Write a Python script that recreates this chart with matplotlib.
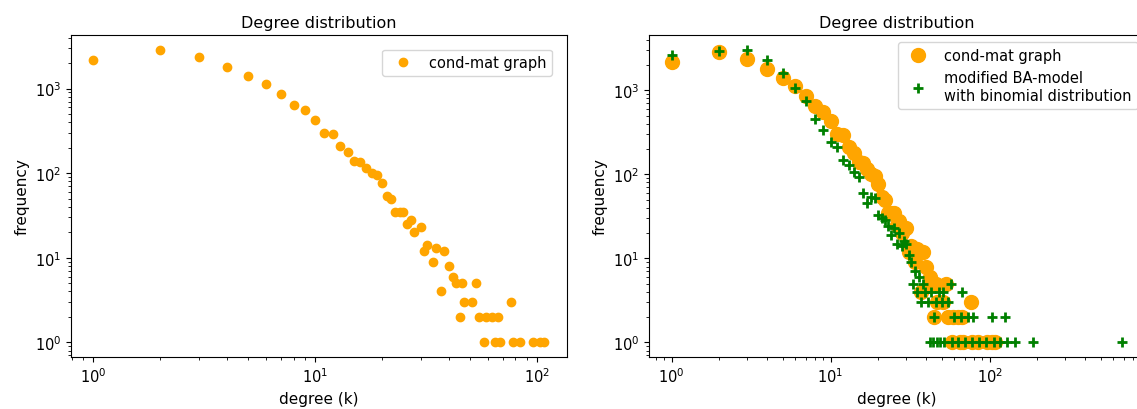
import matplotlib
matplotlib.use("Agg")
import matplotlib.pyplot as plt

plt.rcParams["font.size"] = 10.5
plt.rcParams["axes.titlesize"] = 11.5
plt.rcParams["axes.labelsize"] = 11

# degree distribution of the cond-mat collaboration graph
cm_degree = [1, 2, 3, 4, 5, 6, 7, 8, 9, 10, 11, 12, 13, 14, 15, 16, 17, 18, 19, 20,
             21, 22, 23, 24, 25, 26, 27, 28, 30, 31, 32, 34, 35, 37, 38, 40, 42, 43,
             45, 46, 47, 51, 53, 55, 58, 59, 63, 65, 67, 68, 76, 78, 84, 96, 103, 108]
cm_freq = [2150, 2880, 2360, 1780, 1390, 1140, 860, 645, 553, 430, 300, 290, 212, 178,
           140, 136, 116, 100, 95, 77, 54, 50, 35, 35, 35, 25, 28, 20, 23, 12, 14, 9,
           13, 4, 12, 8, 6, 5, 2, 5, 3, 3, 5, 2, 1, 2, 2, 1, 2, 1, 3, 1, 1, 1, 1, 1]

# degree distribution of the modified BA-model (binomial number of new edges)
ba_degree = [1, 2, 3, 4, 5, 6, 7, 8, 9, 10, 11, 12, 13, 14, 15, 16, 17, 18, 19, 20,
             21, 22, 23, 24, 25, 26, 27, 28, 29, 30, 31, 32, 33, 34, 35, 36, 37, 38,
             39, 41, 42, 43, 44, 45, 46, 47, 48, 49, 50, 51, 52, 55, 57, 58, 60, 63,
             66, 67, 70, 73, 77, 79, 86, 95, 104, 106, 116, 125, 128, 144, 187, 684]
ba_freq = [2610, 2930, 3050, 2275, 1600, 1060, 740, 452, 340, 244, 210, 150, 128, 108,
           93, 60, 45, 54, 52, 33, 30, 29, 24, 19, 23, 15, 20, 14, 16, 15, 11, 9, 5,
           7, 4, 6, 3, 5, 4, 3, 1, 4, 1, 2, 3, 1, 4, 1, 3, 4, 1, 3, 5, 1, 2, 1, 2, 4,
           1, 2, 1, 2, 1, 1, 2, 1, 1, 2, 1, 1, 1, 1]

fig = plt.figure(figsize=(11.37, 4.10), dpi=100)
ax1 = fig.add_axes([0.0624, 0.1268, 0.4362, 0.7854])
ax2 = fig.add_axes([0.5708, 0.1268, 0.4362, 0.7854])

ax1.loglog(cm_degree, cm_freq, "o", color="orange", label="cond-mat graph")
ax1.set_title("Degree distribution")
ax1.set_xlabel("degree (k)")
ax1.set_ylabel("frequency")
ax1.legend(loc="upper right", borderaxespad=1.0)

ax2.loglog(cm_degree, cm_freq, "o", color="orange", markersize=10, label="cond-mat graph")
ax2.loglog(ba_degree, ba_freq, "+", color="green", markersize=7.5, mew=2,
           label="modified BA-model\nwith binomial distribution")
ax2.set_title("Degree distribution")
ax2.set_xlabel("degree (k)")
ax2.set_ylabel("frequency")
ax2.legend(loc="upper right")

fig.savefig("out.png", dpi=100)
